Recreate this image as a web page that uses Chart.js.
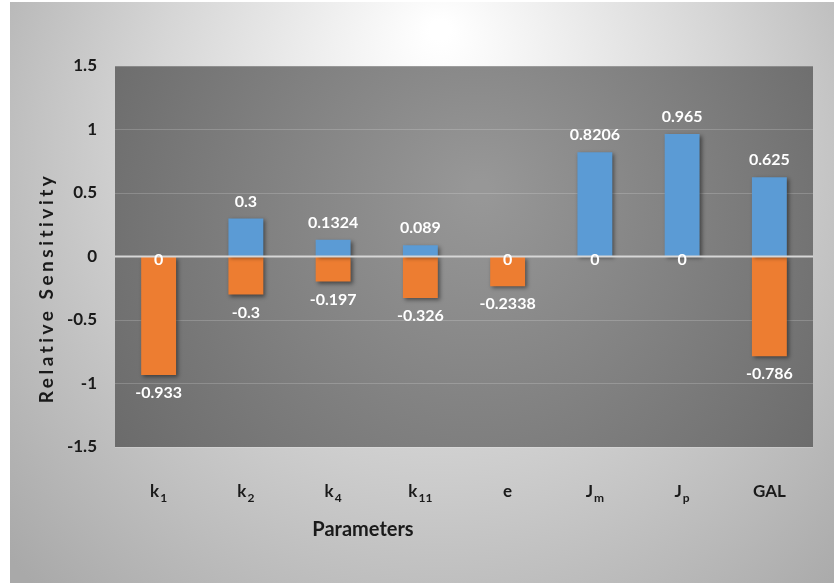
<!DOCTYPE html>
<html>
<head>
<meta charset="utf-8">
<script src="https://cdn.jsdelivr.net/npm/chart.js@4.4.1/dist/chart.umd.min.js"></script>
<style>
  html, body { margin: 0; padding: 0; background: #ffffff; }
  #wrap { width: 836px; height: 583px; position: relative; }
</style>
</head>
<body>
<div id="wrap"><canvas id="chart"></canvas></div>
<script>
// categories: base letter + subscript
const catBase = ["k", "k", "k", "k", "e", "J", "J", "GAL"];
const catSub = ["1", "2", "4", "11", "", "m", "p", ""];
const categories = catBase.map((b, i) => b + catSub[i]);

// positive part (blue) and negative part (orange)
const positiveVals = [0, 0.3, 0.1324, 0.089, 0, 0.8206, 0.965, 0.625];
const negativeVals = [-0.933, -0.3, -0.197, -0.326, -0.2338, 0, 0, -0.786];

const yTicks = [-1.5, -1, -0.5, 0, 0.5, 1, 1.5];

const FONT = "Lato, 'Open Sans', sans-serif";

// backgrounds for the whole figure and the plot area
const backgroundPlugin = {
  id: "backgrounds",
  beforeDraw(chart) {
    const ctx = chart.ctx;
    const a = chart.chartArea;
    ctx.save();
    ctx.fillStyle = "#ffffff";
    ctx.fillRect(0, 0, chart.width, chart.height);
    let g = ctx.createRadialGradient(440, 30, 10, 440, 200, 560);
    g.addColorStop(0, "#ffffff");
    g.addColorStop(0.5, "#d6d6d6");
    g.addColorStop(1, "#a9a9a9");
    ctx.fillStyle = g;
    ctx.fillRect(10, 2, 824, 581);

    g = ctx.createRadialGradient(480, 190, 10, 470, 240, 470);
    g.addColorStop(0, "#979797");
    g.addColorStop(1, "#656565");
    ctx.fillStyle = g;
    ctx.fillRect(a.left, a.top, a.right - a.left, a.bottom - a.top);
    ctx.restore();
  },
  beforeDatasetsDraw(chart) {
    const ctx = chart.ctx;
    ctx.save();
    ctx.shadowColor = "rgba(0,0,0,0.45)";
    ctx.shadowBlur = 4;
    ctx.shadowOffsetX = 2;
    ctx.shadowOffsetY = 2;
  },
  afterDatasetsDraw(chart) {
    const ctx = chart.ctx;
    ctx.restore();
    const a = chart.chartArea;
    const y0 = chart.scales.y.getPixelForValue(0);
    ctx.save();
    ctx.strokeStyle = "#d6d6d6";
    ctx.lineWidth = 2;
    ctx.beginPath();
    ctx.moveTo(a.left, y0);
    ctx.lineTo(a.right, y0);
    ctx.stroke();
    ctx.restore();
  }
};

// value labels, category labels with subscripts, axis titles
const labelPlugin = {
  id: "labels",
  afterDraw(chart) {
    const ctx = chart.ctx;
    const xs = chart.scales.x;
    const ys = chart.scales.y;
    const y0 = ys.getPixelForValue(0);
    ctx.save();
    ctx.fillStyle = "#ffffff";
    ctx.font = "bold 16px " + FONT;
    ctx.textAlign = "center";
    ctx.textBaseline = "middle";
    chart.data.datasets.forEach((ds) => {
      ds.data.forEach((v, i) => {
        const x = xs.getPixelForValue(i);
        let y;
        if (v > 0) y = ys.getPixelForValue(v) - 17;
        else if (v < 0) y = ys.getPixelForValue(v) + 18;
        else y = y0 + 3;
        ctx.fillText(String(v), x, y);
      });
    });

    // category labels
    ctx.fillStyle = "#1a1a1a";
    categories.forEach((c, i) => {
      const x = xs.getPixelForValue(i);
      ctx.font = "bold 17px " + FONT;
      const wb = ctx.measureText(catBase[i]).width;
      ctx.font = "bold 12px " + FONT;
      const ws = catSub[i] ? ctx.measureText(catSub[i]).width + 1 : 0;
      const start = x - (wb + ws) / 2;
      ctx.textAlign = "left";
      ctx.textBaseline = "alphabetic";
      ctx.font = "bold 17px " + FONT;
      ctx.fillText(catBase[i], start, 497);
      if (catSub[i]) {
        ctx.font = "bold 12px " + FONT;
        ctx.fillText(catSub[i], start + wb + 1, 502);
      }
    });

    // axis titles
    ctx.textAlign = "center";
    ctx.textBaseline = "middle";
    ctx.font = "bold 20px " + FONT;
    ctx.fillText("Parameters", 363, 530);

    ctx.translate(47, 288);
    ctx.rotate(-Math.PI / 2);
    ctx.font = "bold 19px " + FONT;
    ctx.letterSpacing = "3.5px";
    ctx.fillText("Relative Sensitivity", 0, 0);
    ctx.restore();
  }
};

new Chart(document.querySelector("#chart"), {
  type: "bar",
  data: {
    labels: categories,
    datasets: [
      {
        label: "Positive",
        data: positiveVals,
        backgroundColor: "#5b9bd5",
        barPercentage: 0.4,
        categoryPercentage: 1,
      },
      {
        label: "Negative",
        data: negativeVals,
        backgroundColor: "#ed7d31",
        barPercentage: 0.4,
        categoryPercentage: 1,
      },
    ],
  },
  options: {
    responsive: true,
    maintainAspectRatio: false,
    animation: false,
    layout: { padding: { top: 66, right: 23, bottom: 136, left: 0 } },
    plugins: {
      legend: { display: false },
      tooltip: { enabled: false },
    },
    scales: {
      x: {
        stacked: true,
        grid: { display: false },
        border: { display: false },
        ticks: { display: false },
        afterFit(scale) {
          scale.height = 0;
        },
      },
      y: {
        stacked: true,
        min: -1.5,
        max: 1.5,
        afterBuildTicks(scale) {
          scale.ticks = yTicks.map((v) => ({ value: v }));
        },
        afterFit(scale) {
          scale.width = 115;
        },
        grid: { color: "rgba(255,255,255,0.18)", lineWidth: 1, drawTicks: false },
        border: { display: false },
        ticks: {
          color: "#1a1a1a",
          padding: 18,
          font: { family: FONT, size: 17, weight: "bold" },
          callback: (v) => String(v),
        },
      },
    },
  },
  plugins: [backgroundPlugin, labelPlugin],
});
</script>
</body>
</html>
